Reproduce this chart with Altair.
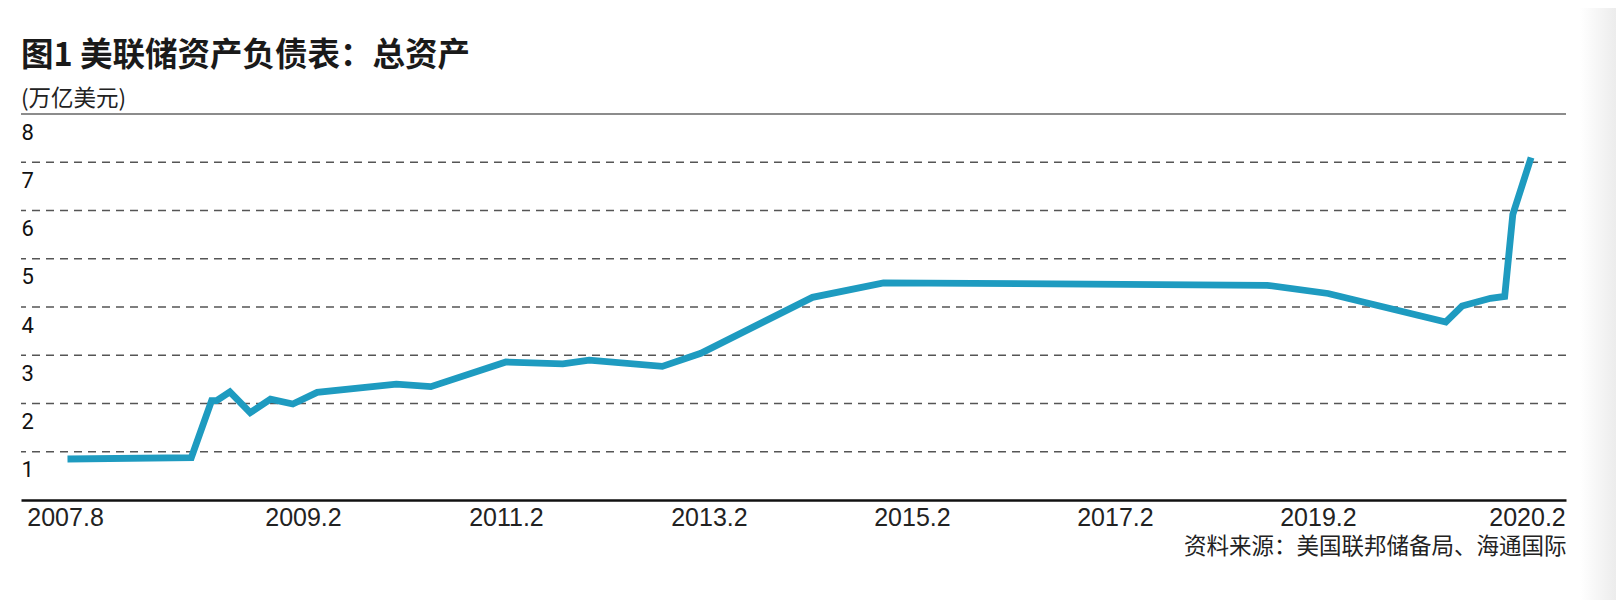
import altair as alt
import pandas as pd

# ---- data ----
# horizontal position measured in "label units" (2009.2 = 1 ... 2019.2 = 6)
X_POS = [-0.16, 0.45, 0.55, 0.575, 0.64, 0.74, 0.84, 0.95, 1.07, 1.46, 1.63,
         2.00, 2.28, 2.41, 2.77, 2.96, 3.51, 3.86, 5.75, 6.05, 6.63, 6.71,
         6.85, 6.92, 6.96, 7.05]
VALUES = [0.85, 0.88, 2.06, 2.06, 2.24, 1.81, 2.09, 1.99, 2.23, 2.40, 2.35,
          2.86, 2.82, 2.90, 2.77, 3.04, 4.20, 4.50, 4.45, 4.28, 3.69, 4.02,
          4.18, 4.22, 5.92, 7.10]

TICK_POS = [-0.172, 1, 2, 3, 4, 5, 6, 7.03]
TICK_LABELS = ["2007.8", "2009.2", "2011.2", "2013.2", "2015.2", "2017.2",
               "2019.2", "2020.2"]
Y_TICKS = [1, 2, 3, 4, 5, 6, 7, 8]
GRID_VALUES = [1, 2, 3, 4, 5, 6, 7]
TOP_VALUE = [8]

TITLE = "图1 美联储资产负债表：总资产"
UNIT = "(万亿美元)"
SOURCE = "资料来源：美国联邦储备局、海通国际"

df = pd.DataFrame({"x": X_POS, "v": VALUES})

label_expr = " : ".join(
    f"abs(datum.value - ({p})) < 0.001 ? '{l}'" for p, l in zip(TICK_POS, TICK_LABELS)
) + " : ''"

W, H = 1545, 386
PAD_TOP, PAD_BOTTOM = 106, 100

xscale = alt.Scale(domain=[-0.389, 7.222], nice=False, zero=False)
yscale = alt.Scale(domain=[0, 8], nice=False, zero=True)

CJK = "Noto Sans CJK SC"

y_axis = alt.Axis(
    values=Y_TICKS,
    grid=False,
    ticks=False,
    domain=False,
    labelAlign="left",
    labelBaseline="middle",
    labelPadding=0,
    labelOffset=18,
    labelFont="Roboto",
    labelFontSize=22,
    labelColor="#111111",
    title=None,
)

x_axis = alt.Axis(
    values=TICK_POS,
    labelExpr=label_expr,
    grid=False,
    ticks=False,
    domain=True,
    domainColor="#111111",
    domainWidth=2.5,
    labelFont="Liberation Sans",
    labelFontSize=25,
    labelColor="#222222",
    labelPadding=5,
    labelAngle=0,
    labelOverlap=False,
    labelFlush=False,
    title=SOURCE,
    titleAnchor="end",
    titleAlign="right",
    titleFont=CJK,
    titleFontSize=22.5,
    titleFontWeight="normal",
    titleColor="#222222",
    titlePadding=5,
)

# faint page shading at the right edge of the scan
shade = alt.Chart(pd.DataFrame({"s": [0]})).mark_rect(
    color=alt.LinearGradient(
        gradient="linear",
        stops=[alt.GradientStop(color="#ffffff", offset=0),
               alt.GradientStop(color="#ececec", offset=1)],
        x1=0, x2=1, y1=0, y2=0,
    )
).encode(
    x=alt.value(W + 14), x2=alt.value(W + 50),
    y=alt.value(-PAD_TOP), y2=alt.value(H + PAD_BOTTOM),
)

grid = alt.Chart(pd.DataFrame({"g": GRID_VALUES})).mark_rule(
    color="#555555", strokeWidth=1.3, strokeDash=[8, 6]
).encode(y=alt.Y("g:Q", scale=yscale, axis=y_axis))

top = alt.Chart(pd.DataFrame({"g": TOP_VALUE})).mark_rule(
    color="#8c8c8c", strokeWidth=2
).encode(y=alt.Y("g:Q", scale=yscale, axis=y_axis))

line = alt.Chart(df).mark_line(
    color="#1e9bc0", strokeWidth=6.8, strokeJoin="miter", strokeCap="butt"
).encode(
    x=alt.X("x:Q", scale=xscale, axis=x_axis),
    y=alt.Y("v:Q", scale=yscale, axis=y_axis),
)

chart = alt.layer(shade, grid, top, line).properties(
    width=W,
    height=H,
    background="white",
    title=alt.TitleParams(
        text=TITLE,
        subtitle=UNIT,
        anchor="start",
        frame="group",
        font=CJK,
        fontSize=32.5,
        fontWeight="bold",
        color="#1a1a1a",
        subtitleFont=CJK,
        subtitleFontSize=22.5,
        subtitleColor="#222222",
        subtitlePadding=15,
        offset=4,
        dy=PAD_TOP,
    ),
    padding={"left": 13, "top": PAD_TOP, "right": 50, "bottom": PAD_BOTTOM},
    autosize=alt.AutoSizeParams(type="none"),
).configure_view(stroke=None, strokeWidth=0)

chart.save("out.html", embed_options={"renderer": "svg", "actions": False})
